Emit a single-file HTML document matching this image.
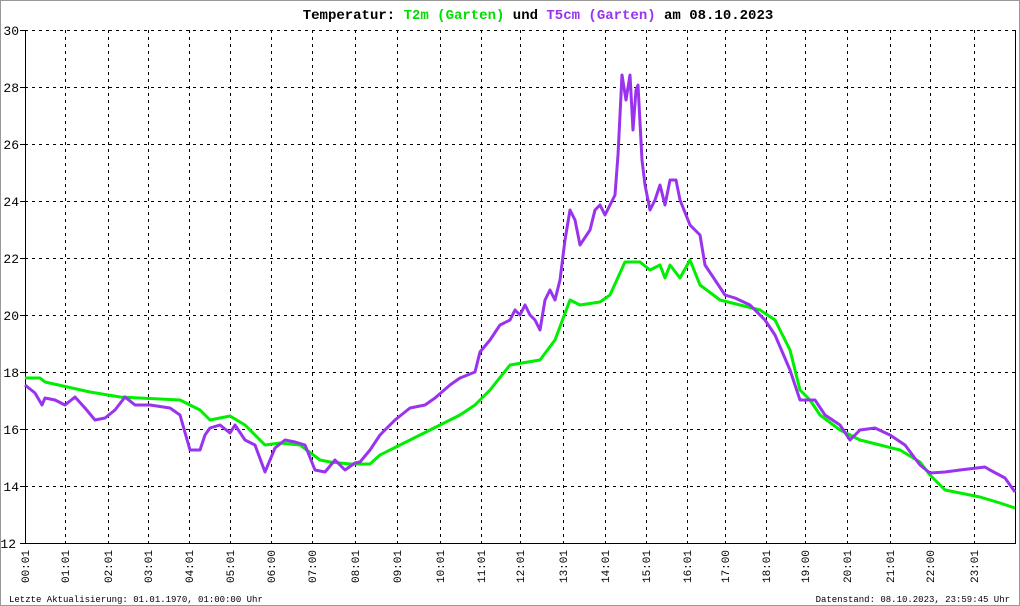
<!DOCTYPE html>
<html><head><meta charset="utf-8"><style>
html,body{margin:0;padding:0;background:#fff}
svg{display:block}
text{font-family:"Liberation Mono","DejaVu Sans Mono",monospace}
</style></head><body>
<svg width="1020" height="606" viewBox="0 0 1020 606" xmlns="http://www.w3.org/2000/svg">
<rect x="0.5" y="0.5" width="1019" height="605" fill="#fff" stroke="#999"/>
<text x="538" y="19" text-anchor="middle" font-size="14" font-weight="bold" fill="#000">Temperatur: <tspan fill="#00dd00">T2m (Garten)</tspan> und <tspan fill="#9933ee">T5cm (Garten)</tspan> am 08.10.2023</text>
<g stroke="#000" stroke-width="1" stroke-dasharray="3,4" fill="none">
<path d="M25 30.5H1015M25 87.5H1015M25 144.5H1015M25 201.5H1015M25 258.5H1015M25 315.5H1015M25 372.5H1015M25 429.5H1015M25 486.5H1015"/>
<path d="M65.5 30V543M108.5 30V543M148.5 30V543M189.5 30V543M230.5 30V543M271.5 30V543M312.5 30V543M355.5 30V543M397.5 30V543M440.5 30V543M481.5 30V543M520.5 30V543M563.5 30V543M605.5 30V543M646.5 30V543M687.5 30V543M725.5 30V543M766.5 30V543M805.5 30V543M847.5 30V543M890.5 30V543M930.5 30V543M974.5 30V543"/>
</g>
<path d="M25.5 30V543.5H1015.5V30" stroke="#000" fill="none"/>
<g stroke="#000"><path d="M20 30.5H25M20 87.5H25M20 144.5H25M20 201.5H25M20 258.5H25M20 315.5H25M20 372.5H25M20 429.5H25M20 486.5H25M20 543.5H25"/></g>
<g font-size="13" text-anchor="end" fill="#000">
<text x="19" y="35">30</text><text x="19" y="92">28</text><text x="19" y="149">26</text><text x="19" y="206">24</text><text x="19" y="263">22</text><text x="19" y="320">20</text><text x="19" y="377">18</text><text x="19" y="434">16</text><text x="19" y="491">14</text><text x="16" y="548">12</text>
</g>
<g font-size="11" fill="#000" text-anchor="end">
<text transform="translate(29,550) rotate(-90)">00:01</text>
<text transform="translate(69,550) rotate(-90)">01:01</text>
<text transform="translate(112,550) rotate(-90)">02:01</text>
<text transform="translate(152,550) rotate(-90)">03:01</text>
<text transform="translate(193,550) rotate(-90)">04:01</text>
<text transform="translate(234,550) rotate(-90)">05:01</text>
<text transform="translate(275,550) rotate(-90)">06:00</text>
<text transform="translate(316,550) rotate(-90)">07:00</text>
<text transform="translate(359,550) rotate(-90)">08:01</text>
<text transform="translate(401,550) rotate(-90)">09:01</text>
<text transform="translate(444,550) rotate(-90)">10:01</text>
<text transform="translate(485,550) rotate(-90)">11:01</text>
<text transform="translate(524,550) rotate(-90)">12:01</text>
<text transform="translate(567,550) rotate(-90)">13:01</text>
<text transform="translate(609,550) rotate(-90)">14:01</text>
<text transform="translate(650,550) rotate(-90)">15:01</text>
<text transform="translate(691,550) rotate(-90)">16:01</text>
<text transform="translate(729,550) rotate(-90)">17:00</text>
<text transform="translate(770,550) rotate(-90)">18:01</text>
<text transform="translate(809,550) rotate(-90)">19:00</text>
<text transform="translate(851,550) rotate(-90)">20:01</text>
<text transform="translate(894,550) rotate(-90)">21:01</text>
<text transform="translate(934,550) rotate(-90)">22:00</text>
<text transform="translate(978,550) rotate(-90)">23:01</text>
</g>
<text x="9" y="602" font-size="9" fill="#000">Letzte Aktualisierung: 01.01.1970, 01:00:00 Uhr</text>
<text x="1010" y="602" font-size="9" fill="#000" text-anchor="end">Datenstand: 08.10.2023, 23:59:45 Uhr</text>
<polyline fill="none" stroke="#00ee00" stroke-width="3" stroke-linejoin="round" points="25,378 40,378 45,382 90,392 120,397 180,400 200,410 210,420 230,416 245,425 265,445 280,443 300,445 320,460 330,462 350,464 370,464 380,455 400,445 430,430 460,415 475,405 490,390 510,365 540,360 555,340 570,300 580,305 600,302 610,295 625,262 640,262 650,270 660,265 665,278 670,265 680,278 690,260 700,285 720,300 740,305 760,310 775,320 790,350 800,390 810,400 820,415 840,430 860,440 880,445 900,450 920,462 930,475 945,490 960,493 980,497 1000,503 1015,508"/>
<polyline fill="none" stroke="#9933ee" stroke-width="3" stroke-linejoin="round" points="25,385 35,393 42,405 45,398 55,400 65,405 75,397 85,408 95,420 105,418 115,410 125,397 135,405 150,405 170,408 180,415 190,450 200,450 205,435 210,428 220,425 230,433 235,425 245,440 255,445 265,472 270,460 275,448 285,440 295,442 305,445 315,470 325,472 335,460 345,470 355,463 360,462 370,450 380,435 395,420 410,408 425,405 435,398 450,385 460,378 475,372 480,352 490,340 500,325 510,320 515,310 520,315 525,305 530,315 535,320 540,330 545,300 550,290 555,300 560,280 565,240 570,210 575,220 580,245 590,230 595,210 600,205 605,215 610,205 615,195 618,155 622,75 626,100 630,75 633,130 636,90 638,85 642,160 645,185 650,210 655,200 660,185 665,205 670,180 676,180 680,200 686,215 690,225 700,235 705,265 715,280 725,295 735,298 750,305 765,320 775,335 790,370 800,400 815,400 825,415 840,425 850,440 860,430 875,428 890,435 905,445 920,465 930,473 945,472 960,470 985,467 990,470 1005,478 1015,492"/>
</svg>
</body></html>
